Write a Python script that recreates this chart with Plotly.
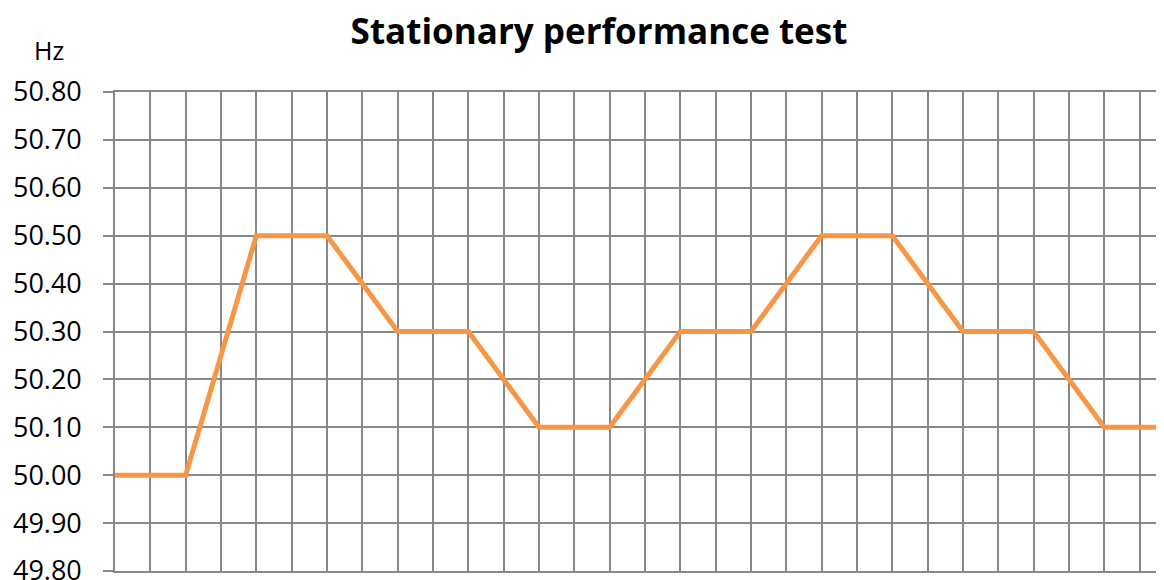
import plotly.graph_objects as go

# time steps (one per grid column) and frequency setpoints
steps = [0, 2, 4, 6, 8, 10, 12, 14, 16, 18, 20, 22, 24, 26, 28, 30]
freq_hz = [50.00, 50.00, 50.50, 50.50, 50.30, 50.30, 50.10, 50.10,
           50.30, 50.30, 50.50, 50.50, 50.30, 50.30, 50.10, 50.10]
y_ticks = [49.80, 49.90, 50.00, 50.10, 50.20, 50.30, 50.40, 50.50, 50.60, 50.70, 50.80]

grid = "#878787"
# page body has an 8px margin, so the figure is placed at (8, 8)
off = 8

fig = go.Figure()
fig.add_trace(go.Scatter(x=steps, y=freq_hz, mode="lines",
                         line=dict(color="#F79646", width=5),
                         showlegend=False))

fig.update_layout(
    width=1164 - off, height=580 - off,
    margin=dict(l=115 - off, r=0, t=92 - off, b=9),
    paper_bgcolor="white", plot_bgcolor="white",
    font=dict(family="Open Sans", color="black"),
    title=dict(text="<b>Stationary performance test</b>",
               x=(599 - off) / (1164 - off), xanchor="center",
               y=1 - (32 - off) / (580 - off), yanchor="middle",
               font=dict(size=35, color="black")),
    xaxis=dict(range=[0, 29.69], dtick=1, showticklabels=False,
               showgrid=True, gridcolor=grid, gridwidth=1.6,
               zeroline=False, showline=True, mirror=True,
               linecolor=grid, linewidth=1.6, automargin=False),
    yaxis=dict(range=[49.8, 50.8], tickvals=y_ticks,
               ticktext=["%.2f" % v for v in y_ticks],
               showgrid=True, gridcolor=grid, gridwidth=1.6, zeroline=False,
               showline=True, linecolor=grid, linewidth=1.6,
               ticks="outside", ticklen=10, tickcolor=grid, tickwidth=1.6,
               ticklabelstandoff=16, ticklabeloverflow="allow",
               automargin=False,
               tickfont=dict(size=27, color="black")),
)

fig.add_annotation(text="Hz", xref="paper", yref="paper",
                   x=-(115 - 48.5) / 1049, y=1 + (92 - 50) / 479,
                   xanchor="center", yanchor="middle", showarrow=False,
                   font=dict(size=25, color="black"))

fig.write_html("out.html")
